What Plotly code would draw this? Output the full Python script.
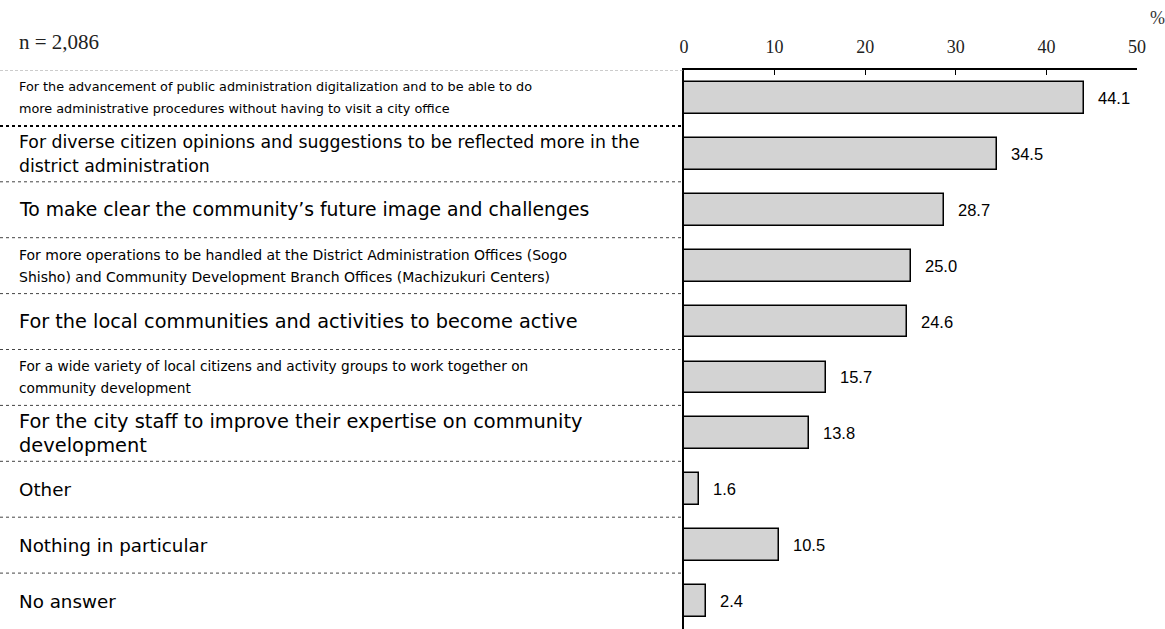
import plotly.graph_objects as go

categories = [
    "For the advancement of public administration digitalization and to be able to do<br>more administrative procedures without having to visit a city office",
    "For diverse citizen opinions and suggestions to be reflected more in the<br>district administration",
    "To make clear the community’s future image and challenges",
    "For more operations to be handled at the District Administration Offices (Sogo<br>Shisho) and Community Development Branch Offices (Machizukuri Centers)",
    "For the local communities and activities to become active",
    "For a wide variety of local citizens and activity groups to work together on<br>community development",
    "For the city staff to improve their expertise on community<br>development",
    "Other",
    "Nothing in particular",
    "No answer",
]
values = [44.1, 34.5, 28.7, 25.0, 24.6, 15.7, 13.8, 1.6, 10.5, 2.4]
label_sizes = [12.8, 17.3, 18.8, 14.0, 19.3, 13.7, 19.4, 18.3, 18.3, 18.3]
tick_vals = [0, 10, 20, 30, 40, 50]

W, H = 1165, 629
L, T, B = 684, 70, 0
plot_w = 453
R = W - L - plot_w

ypos = list(range(len(categories)))

fig = go.Figure()
fig.add_trace(go.Bar(
    x=values, y=ypos, orientation="h",
    marker=dict(color="#d3d3d3", line=dict(color="black", width=1.5)),
    width=0.57, hoverinfo="x",
))

left_paper = -L / plot_w
label_x = (17 - L) / plot_w
annotations = []
for i, (c, s) in enumerate(zip(categories, label_sizes)):
    lines = c.split("<br>")
    if len(lines) == 1:
        shifts = [0]
    else:
        d = 11 if s < 16 else 12
        shifts = [d, -d]
    for ln, sh in zip(lines, shifts):
        annotations.append(dict(
            x=label_x, xref="paper", y=i, yref="y", yshift=sh, text=ln, showarrow=False,
            xanchor="left", yanchor="middle", align="left",
            font=dict(family="DejaVu Sans", size=s, color="black"),
        ))
for i, v in enumerate(values):
    annotations.append(dict(
        x=v, xref="x", y=i, yref="y", text=f"{v:.1f}", showarrow=False,
        xanchor="left", yanchor="middle", xshift=12,
        font=dict(family="Liberation Sans", size=16.5, color="black"),
    ))
annotations.append(dict(x=label_x, xref="paper", y=1, yref="paper", yshift=28,
                        text="n = 2,086", showarrow=False, xanchor="left", yanchor="middle",
                        font=dict(family="Liberation Serif", size=21, color="#222")))
annotations.append(dict(x=1.0, xref="paper", y=1, yref="paper", yshift=52, xshift=20,
                        text="%", showarrow=False, xanchor="center", yanchor="middle",
                        font=dict(family="Liberation Serif", size=18, color="#333")))

shapes = []
for i in range(len(categories)):
    yb = i - 0.5
    if i == 0:
        line = dict(color="#999", width=1.2, dash="3px,2px")
    elif i == 1:
        line = dict(color="black", width=2, dash="dot")
    else:
        line = dict(color="#444", width=1, dash="dot")
    shapes.append(dict(type="line", xref="paper", yref="y", x0=left_paper, x1=0,
                       y0=yb, y1=yb, line=line))

fig.update_layout(
    width=W, height=H, margin=dict(l=L, r=R, t=T, b=B),
    plot_bgcolor="white", paper_bgcolor="white",
    showlegend=False, bargap=0,
    annotations=annotations, shapes=shapes,
    xaxis=dict(range=[0, 50], side="top", tickvals=tick_vals, ticks="inside", ticklen=5,
               tickcolor="black", showline=True, linecolor="black", linewidth=1.5,
               showgrid=False, zeroline=False, ticklabelstandoff=8,
               tickfont=dict(family="Liberation Serif", size=18, color="#222")),
    yaxis=dict(range=[9.5, -0.5], showticklabels=False, showgrid=False, zeroline=False,
               showline=True, linecolor="black", linewidth=1.5, ticks=""),
)

fig.write_html(
    "out.html",
    config={"displayModeBar": False},
    post_script="document.body.style.margin='0';document.body.style.overflow='hidden';",
)
